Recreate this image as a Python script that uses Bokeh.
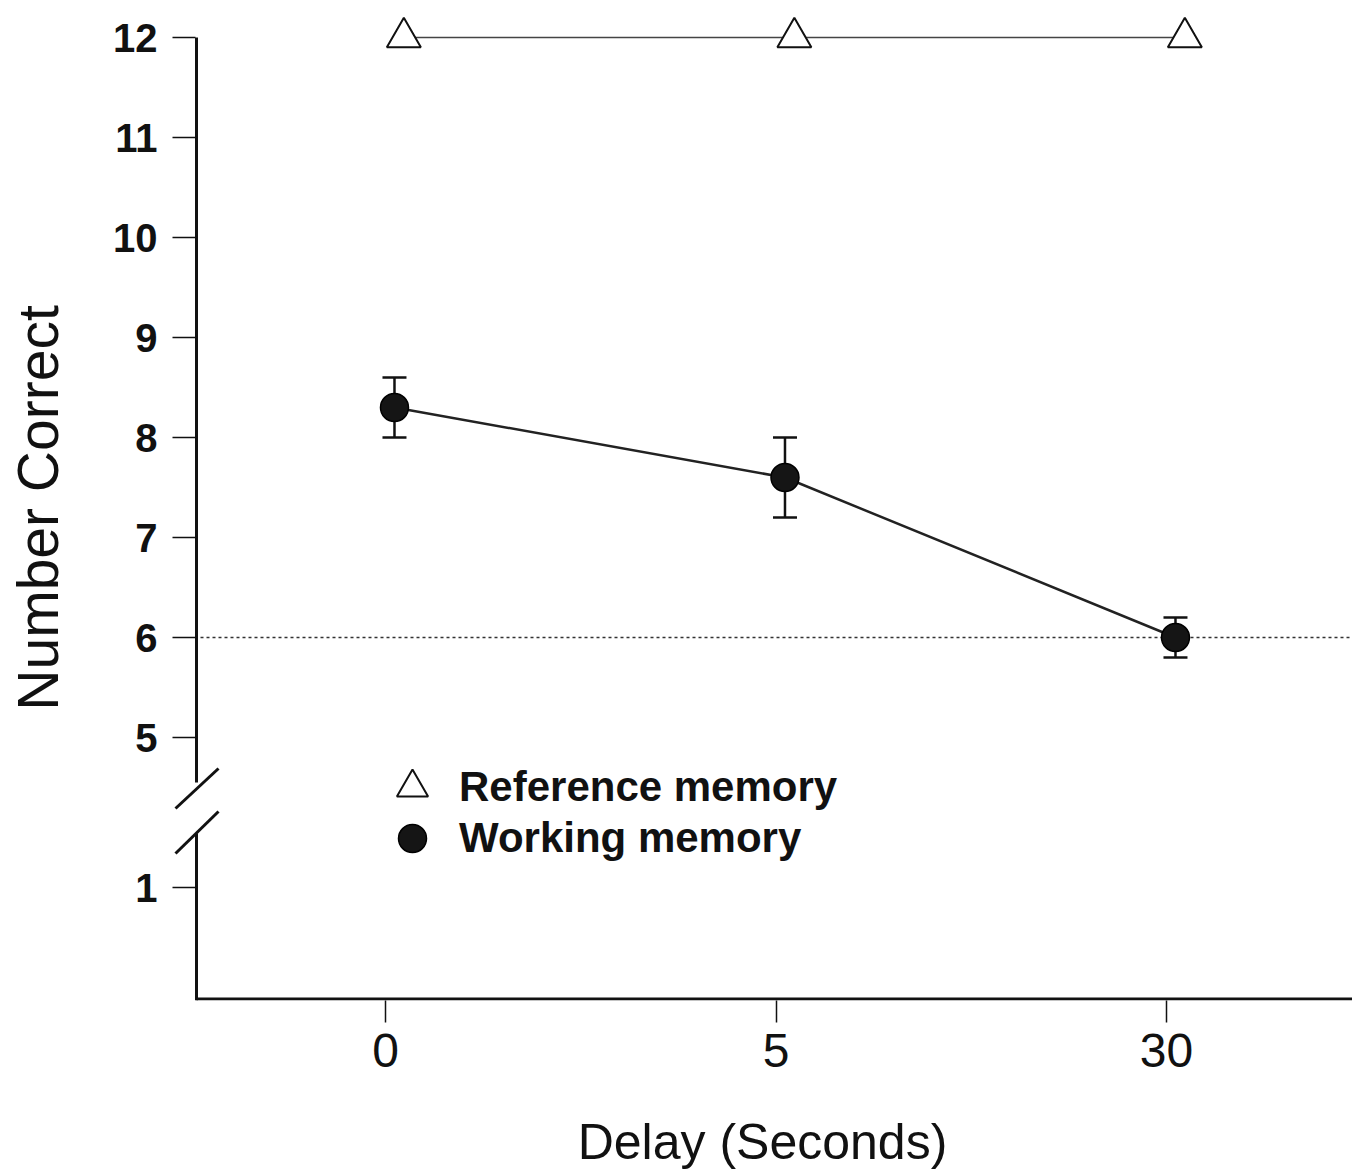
from bokeh.plotting import figure
from bokeh.models import (ColumnDataSource, Range1d, FixedTicker,
                          Whisker, TeeHead, Arrow, Legend, LegendItem)
from bokeh.transform import dodge
from bokeh.embed import file_html
from bokeh.resources import INLINE

# ---- data ----
delays = ["0", "5", "30"]
reference_memory = [12.0, 12.0, 12.0]
working_memory = [8.3, 7.6, 6.0]
working_sem = [0.3, 0.4, 0.2]
y_tick_values = [1, 5, 6, 7, 8, 9, 10, 11, 12]
chance_level = 6

# broken axis: values below the break are drawn shifted up
BREAK_AT = 5
BREAK_SHIFT = 2.5


def axis_pos(v):
    return v if v >= BREAK_AT else v + BREAK_SHIFT


FONT = "Liberation Sans"
INK = "#111111"

# ---- layout geometry ----
FRAME_LEFT = 172
FRAME_TOP = 15
FRAME_W = 1180
FRAME_H = 985
PX_PER_X = 390.5
X_START = -(385 - FRAME_LEFT) / PX_PER_X
X_END = X_START + FRAME_W / PX_PER_X
Y_START, Y_END = 2.37, 12.22
TICK_LEN = 23
AXIS_X = X_START + (TICK_LEN + 1) / PX_PER_X
AXIS_Y = Y_START + 1.5 / 100.0

positions = list(range(len(delays)))

src = ColumnDataSource(dict(
    x=positions,
    ref=reference_memory,
    wm=working_memory,
    upper=[m + s for m, s in zip(working_memory, working_sem)],
    lower=[m - s for m, s in zip(working_memory, working_sem)],
))

p = figure(x_range=Range1d(X_START, X_END), y_range=Range1d(Y_START, Y_END),
           frame_width=FRAME_W, frame_height=FRAME_H,
           min_border_left=FRAME_LEFT, min_border_right=0, min_border_top=FRAME_TOP,
           min_border_bottom=0,
           output_backend="svg", toolbar_location=None)
p.outline_line_color = None
p.xgrid.visible = False
p.ygrid.visible = False
p.background_fill_color = "white"

# y axis (ticks drawn inward so they sit left of the hand-drawn axis line)
ya = p.yaxis[0]
ya.ticker = FixedTicker(ticks=[axis_pos(v) for v in y_tick_values])
ya.major_label_overrides = {axis_pos(v): str(v) for v in y_tick_values}
ya.axis_line_color = None
ya.major_tick_out = 0
ya.major_tick_in = TICK_LEN
ya.major_tick_line_width = 1.5
ya.major_tick_line_color = INK
ya.minor_tick_line_color = None
ya.major_label_text_font = FONT
ya.major_label_text_font_size = "40px"
ya.major_label_text_font_style = "bold"
ya.major_label_text_color = INK
ya.major_label_standoff = 15
ya.axis_label = "Number Correct"
ya.axis_label_text_font = FONT
ya.axis_label_text_font_size = "57px"
ya.axis_label_text_font_style = "normal"
ya.axis_label_text_color = INK
ya.axis_label_standoff = 40

# x axis
xa = p.xaxis[0]
xa.ticker = FixedTicker(ticks=positions)
xa.major_label_overrides = {i: d for i, d in zip(positions, delays)}
xa.axis_line_color = None
xa.major_tick_out = 22
xa.major_tick_in = 0
xa.major_tick_line_width = 1.5
xa.major_tick_line_color = INK
xa.minor_tick_line_color = None
xa.major_label_text_font = FONT
xa.major_label_text_font_size = "48px"
xa.major_label_text_color = INK
xa.major_label_standoff = 11
xa.axis_label = "Delay (Seconds)"
xa.axis_label_text_font = FONT
xa.axis_label_text_font_size = "50px"
xa.axis_label_text_font_style = "normal"
xa.axis_label_text_color = INK
xa.axis_label_standoff = 44

# axis lines (y with a break)
p.segment(x0=[AXIS_X, AXIS_X, AXIS_X], x1=[AXIS_X, AXIS_X, X_END],
          y0=[12, 4.04, AXIS_Y], y1=[4.55, Y_START, AXIS_Y],
          line_width=3, line_color=INK)
for (ys, ye) in [(4.29, 4.69), (3.84, 4.26)]:
    p.add_layout(Arrow(end=None, x_start=AXIS_X - 21 / PX_PER_X, y_start=ys,
                       x_end=AXIS_X + 22 / PX_PER_X, y_end=ye,
                       line_width=3, line_color=INK))

# chance line (dotted)
p.segment(x0=[AXIS_X + 4 / PX_PER_X], x1=[X_END], y0=[chance_level], y1=[chance_level],
          line_dash="3 3", line_width=1.5, line_color="#333333")

# reference memory
ref_x = dodge("x", 0.047)
p.line(x=ref_x, y="ref", source=src, line_width=1.5, line_color="#444444")
r_ref = p.scatter(x=ref_x, y="ref", source=src, marker="triangle", size=34,
                  fill_color="white", line_color=INK, line_width=2)

# working memory
wm_x = dodge("x", 0.023)
err = Whisker(source=src, base=wm_x, upper="upper", lower="lower",
              line_width=2.5, line_color=INK,
              upper_head=TeeHead(size=24, line_width=2.5, line_color=INK),
              lower_head=TeeHead(size=24, line_width=2.5, line_color=INK))
err.level = "underlay"
p.add_layout(err)
p.line(x=wm_x, y="wm", source=src, line_width=2.5, line_color="#222222")
r_wm = p.scatter(x=wm_x, y="wm", source=src, marker="circle", size=28,
                 fill_color="#151515", line_color="#000000", line_width=1.5)

# legends
leg_common = dict(padding=0, margin=0, border_line_color=None, background_fill_alpha=0,
                  label_text_font=FONT, label_text_font_size="42px",
                  label_text_font_style="bold", label_text_color=INK)
leg1 = Legend(items=[LegendItem(label="Reference memory", renderers=[r_ref])],
              location=(201, 174), glyph_width=78, glyph_height=78, label_standoff=8,
              **leg_common)
leg2 = Legend(items=[LegendItem(label="Working memory", renderers=[r_wm])],
              location=(205, 127), glyph_width=70, glyph_height=70, label_standoff=12,
              **leg_common)
p.add_layout(leg1)
p.add_layout(leg2)

open("out.html", "w").write(file_html(p, INLINE))
